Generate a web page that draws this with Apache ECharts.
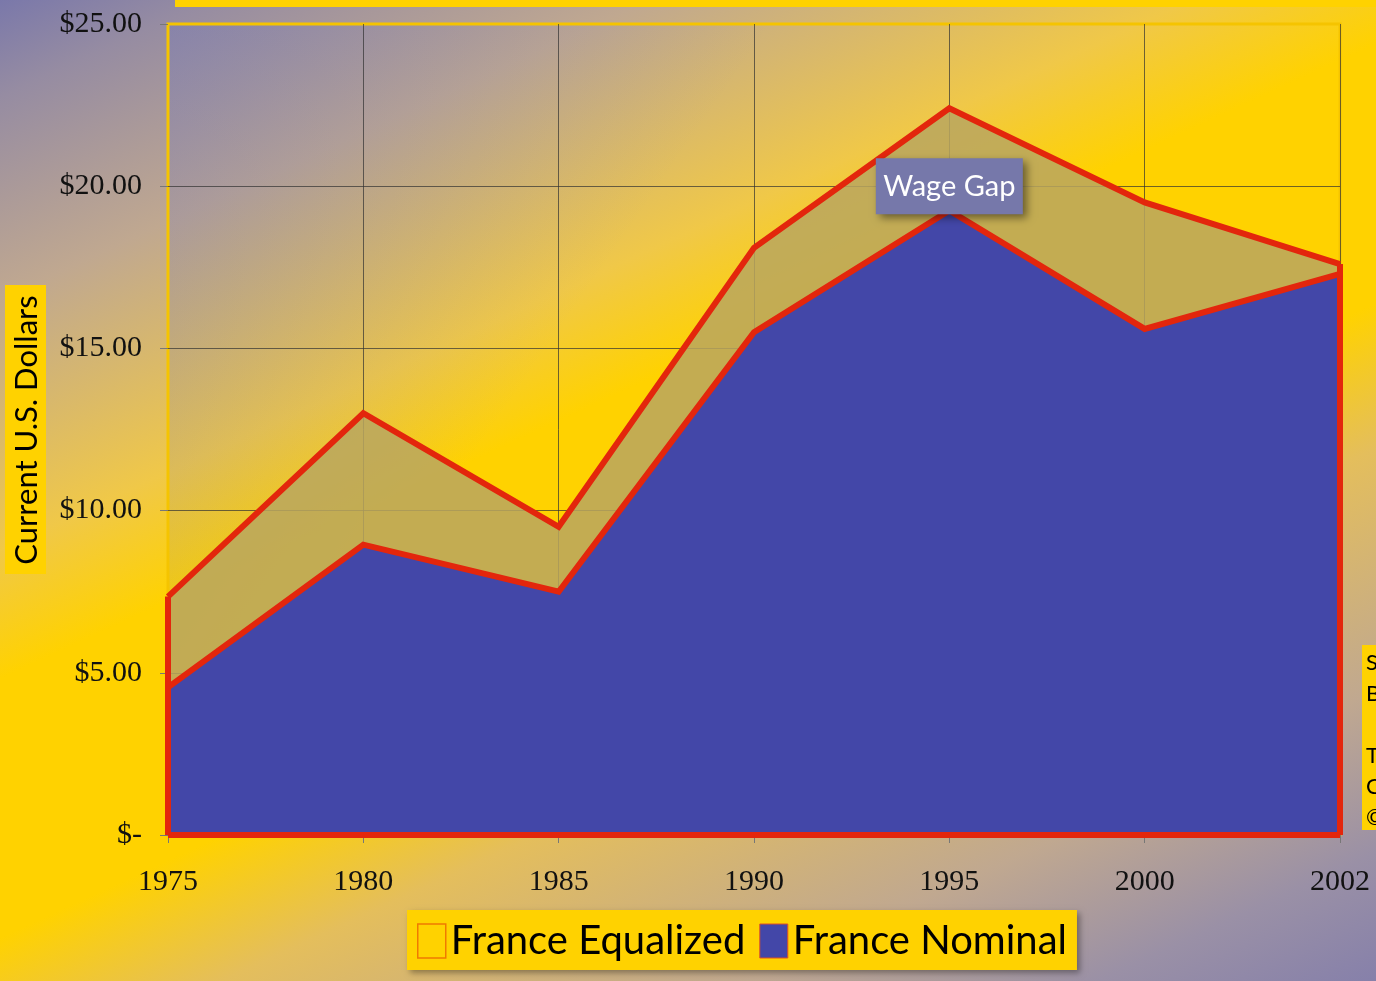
<!DOCTYPE html>
<html>
<head>
<meta charset="utf-8">
<script src="https://cdn.jsdelivr.net/npm/echarts@6/dist/echarts.min.js"></script>
<style>
  html, body { margin: 0; padding: 0; }
  #chart { width: 1376px; height: 981px; }
</style>
</head>
<body>
<div id="chart"></div>
<script>
const years = ['1975', '1980', '1985', '1990', '1995', '2000', '2002']
const equalized = [7.35, 13.0, 9.5, 18.1, 22.4, 19.5, 17.6]
const nominal = [4.55, 8.95, 7.5, 15.5, 19.25, 15.6, 17.3]
const yTicks = { min: 0, max: 25, step: 5 }
const sourceLines = ['Source: U.S. Dept. of Labor', 'Bureau of Labor Statistics', '', 'The Wage Gap', 'Compiled 2004', '© 2004']

const RED = '#e3260c'
const BLUE = '#4347a8'
const YELLOW = '#ffd200'
const SERIF = '"Liberation Serif", "DejaVu Serif", serif'
const SANS = 'Lato, "Open Sans", sans-serif'

const chart = echarts.init(document.getElementById('chart'))

const lastIdx = years.length - 1
const edgeLines = [
  [{ coord: [years[0], 0] }, { coord: [years[0], equalized[0]] }],
  [{ coord: [years[lastIdx], 0] }, { coord: [years[lastIdx], equalized[lastIdx]] }],
  [{ coord: [years[0], 0] }, { coord: [years[lastIdx], 0] }],
]

chart.setOption({
  animation: false,
  backgroundColor: {
    type: 'linear', x: 0, y: 0, x2: 615, y2: 1333, global: true,
    colorStops: [
      { offset: 0, color: '#7a78aa' },
      { offset: 0.06, color: '#968ca2' },
      { offset: 0.185, color: '#c0a890' },
      { offset: 0.34, color: '#f0c848' },
      { offset: 0.42, color: '#ffd200' },
      { offset: 0.58, color: '#ffd200' },
      { offset: 0.67, color: '#e4be5c' },
      { offset: 0.82, color: '#c0a890' },
      { offset: 0.92, color: '#9a90a6' },
      { offset: 1, color: '#8680aa' },
    ],
  },
  grid: {
    left: 168, right: 36, top: 24, bottom: 146,
    show: true, borderColor: '#f5c400', borderWidth: 3,
    backgroundColor: {
      type: 'linear', x: 0, y: 0, x2: 1, y2: 1,
      colorStops: [
        { offset: 0, color: 'rgba(100,110,190,0.3)' },
        { offset: 0.35, color: 'rgba(100,110,190,0)' },
        { offset: 1, color: 'rgba(100,110,190,0)' },
      ],
    },
  },
  xAxis: {
    type: 'category', data: years, boundaryGap: false,
    axisLine: { show: false },
    axisTick: { show: true, length: 8, lineStyle: { color: '#777' } },
    axisLabel: { color: '#111', fontFamily: SERIF, fontSize: 30, margin: 32 },
    splitLine: { show: true, showMinLine: false, lineStyle: { color: 'rgba(50,50,50,0.7)', width: 1 } },
  },
  yAxis: {
    type: 'value', min: yTicks.min, max: yTicks.max, interval: yTicks.step,
    axisLine: { show: false },
    axisTick: { show: true, length: 8, lineStyle: { color: '#777' } },
    axisLabel: {
      color: '#111', fontFamily: SERIF, fontSize: 30, margin: 26,
      formatter: (v) => v === 0 ? '$-' : '$' + v.toFixed(2),
    },
    splitLine: { show: true, showMinLine: false, showMaxLine: false, lineStyle: { color: 'rgba(50,50,50,0.7)', width: 1 } },
  },
  legend: {
    left: 407, top: 910,
    backgroundColor: YELLOW,
    padding: [11, 10, 9, 10],
    itemGap: 14, itemWidth: 28, itemHeight: 34,
    shadowBlur: 6, shadowColor: 'rgba(0,0,0,0.35)', shadowOffsetX: 3, shadowOffsetY: 3,
    textStyle: { fontFamily: SANS, fontSize: 40, color: '#000' },
    data: [
      { name: 'France Equalized', icon: 'rect', itemStyle: { color: 'rgba(0,0,0,0)', borderColor: '#f07a00', borderWidth: 1.5 } },
      { name: 'France Nominal', icon: 'rect', itemStyle: { color: BLUE, borderColor: '#e05020', borderWidth: 1 } },
    ],
  },
  graphic: [
    { type: 'rect', shape: { x: 175, y: 0, width: 1201, height: 7 }, style: { fill: YELLOW } },
    {
      type: 'group', left: 5, top: 285,
      children: [
        { type: 'rect', shape: { x: 0, y: 0, width: 41, height: 289 }, style: { fill: YELLOW } },
        {
          type: 'text', x: 22, y: 145, rotation: Math.PI / 2,
          style: { text: 'Current U.S. Dollars', fill: '#000', font: '31px Lato, sans-serif', align: 'center', verticalAlign: 'middle' },
        },
      ],
    },
    { type: 'rect', shape: { x: 1362, y: 645, width: 20, height: 185 }, style: { fill: YELLOW } },
    {
      type: 'text', x: 1366, y: 647,
      style: { text: sourceLines.join('\n'), fill: '#000', font: '22px Lato, sans-serif', lineHeight: 31 },
    },
  ],
  series: [
    {
      name: 'France Equalized', type: 'line', data: equalized,
      symbol: 'none', clip: false,
      lineStyle: { color: RED, width: 6, join: 'miter' },
      itemStyle: { color: RED },
      areaStyle: { color: 'rgba(184,166,96,0.85)', opacity: 1, origin: 'start' },
    },
    {
      name: 'France Nominal', type: 'line', data: nominal,
      symbol: 'none', clip: false,
      lineStyle: { color: RED, width: 6, join: 'miter' },
      itemStyle: { color: RED },
      areaStyle: { color: BLUE, opacity: 1, origin: 'start' },
      markLine: {
        silent: true, symbol: 'none', z: 5,
        lineStyle: { color: RED, width: 6, type: 'solid' },
        label: { show: false },
        data: edgeLines,
      },
      markPoint: {
        silent: true, z: 10,
        symbol: 'rect', symbolSize: [147, 56],
        itemStyle: { color: '#7678aa', shadowBlur: 8, shadowOffsetX: 4, shadowOffsetY: 4, shadowColor: 'rgba(0,0,0,0.45)' },
        label: { show: true, position: 'inside', color: '#fff', fontFamily: SANS, fontSize: 29, formatter: 'Wage Gap' },
        data: [{ coord: ['1995', 20.0] }],
      },
    },
  ],
})
</script>
</body>
</html>
